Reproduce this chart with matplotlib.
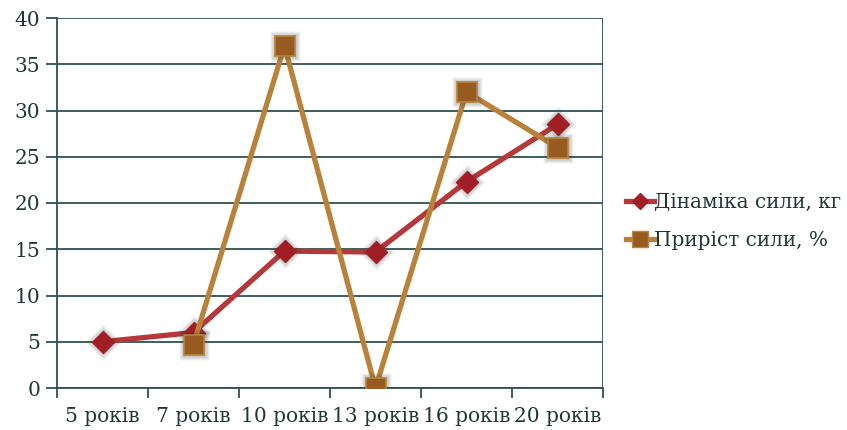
import numpy as np
import matplotlib.pyplot as plt

# ---- data ----
ages = ["5 років", "7 років", "10 років", "13 років", "16 років", "20 років"]
strength_kg = [5.0, 6.0, 14.8, 14.7, 22.3, 28.5]      # Дінаміка сили, кг
growth_pct = [np.nan, 4.7, 37.0, 0.0, 32.0, 26.0]     # Приріст сили, %

COL_AXIS = "#2E5250"
COL_TEXT = "#1E3836"
COL_RED = "#B5393B"
COL_RED_MK = "#A11F24"
COL_GOLD = "#B8823B"
COL_GOLD_MK = "#975A20"
FS = 14.5

plt.rcParams["font.family"] = ["DejaVu Serif"]

fig = plt.figure(figsize=(8.47, 4.30), dpi=100)
ax = fig.add_axes([57 / 847, 1 - 388 / 430, 546 / 847, 370 / 430])

x = np.arange(len(ages))


def soft_shadow(xs, ys, marker, ms, z):
    # stacked translucent markers give a blurred halo behind each point
    for k in range(6):
        ax.plot(xs, ys, ls="none", marker=marker, ms=ms + 1.6 * k, mfc="0.25", mec="none",
                alpha=0.07, zorder=z)


ax.plot(x, strength_kg, color=COL_RED, lw=3.8, zorder=3)
soft_shadow(x, strength_kg, "D", 10, 3.2)
ax.plot(x, strength_kg, ls="none", marker="D", ms=11, mfc=COL_RED_MK, mec=COL_RED_MK, zorder=3.5)

ax.plot(x, growth_pct, color=COL_GOLD, lw=3.8, zorder=4)
soft_shadow(x, growth_pct, "s", 14, 4.2)
ax.plot(x, growth_pct, ls="none", marker="s", ms=15, mfc=COL_GOLD_MK, mec="#B58540", mew=1.2,
        zorder=4.5)

# legend proxies
h1, = ax.plot([], [], color=COL_RED, lw=3.8, marker="D", ms=8, mfc=COL_RED_MK, mec=COL_RED_MK)
h2, = ax.plot([], [], color=COL_GOLD, lw=3.8, marker="s", ms=11, mfc=COL_GOLD_MK, mec="#B58540")

ax.set_xlim(-0.5, len(ages) - 0.5)
ax.set_ylim(0, 40)
ax.set_yticks(np.arange(0, 41, 5))
ax.grid(axis="y", color=COL_AXIS, lw=1.3, zorder=0)

# category ticks sit between categories, labels in the middle
ax.set_xticks(np.arange(-0.5, len(ages)), labels=[""] * (len(ages) + 1))
ax.set_xticks(x, labels=ages, minor=True)
ax.tick_params(axis="x", which="major", length=7, width=1.3, color=COL_AXIS, direction="out")
ax.tick_params(axis="x", which="minor", length=0, pad=14, labelsize=FS, labelcolor=COL_TEXT)
ax.tick_params(axis="y", length=8, width=1.3, color=COL_AXIS, labelsize=FS,
               labelcolor=COL_TEXT, pad=4)

for side in ["top", "right"]:
    ax.spines[side].set_visible(False)
for side in ["left", "bottom"]:
    ax.spines[side].set_color(COL_AXIS)
    ax.spines[side].set_linewidth(1.3)
ax.axvline(len(ages) - 0.5, color=COL_AXIS, lw=1.3, zorder=0)

leg = ax.legend([h1, h2], ["Дінаміка сили, кг", "Приріст сили, %"],
                loc="center left", bbox_to_anchor=(1.028, 0.45), frameon=False,
                fontsize=14.4, handlelength=1.4, handletextpad=0.0,
                labelspacing=0.98, borderaxespad=0.0)
for t in leg.get_texts():
    t.set_color(COL_TEXT)

fig.savefig("out.png", dpi=100)
